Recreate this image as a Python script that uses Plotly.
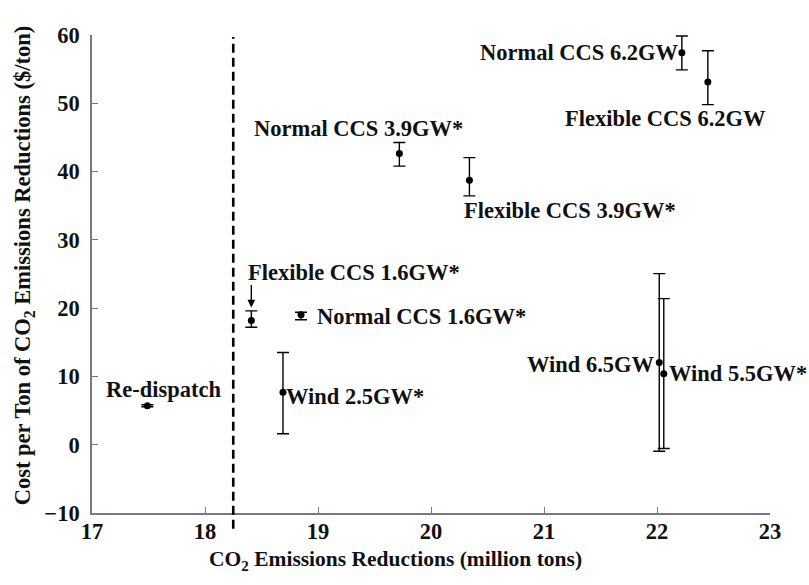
import plotly.graph_objects as go

# Scenario results: CO2 reductions (million tons) vs. cost per ton ($/ton)
scenarios = [
    "Re-dispatch",
    "Flexible CCS 1.6GW*",
    "Normal CCS 1.6GW*",
    "Wind 2.5GW*",
    "Normal CCS 3.9GW*",
    "Flexible CCS 3.9GW*",
    "Normal CCS 6.2GW",
    "Flexible CCS 6.2GW",
    "Wind 6.5GW",
    "Wind 5.5GW*",
]
reductions = [17.49, 18.41, 18.85, 18.69, 19.72, 20.34, 22.22, 22.45, 22.02, 22.06]
cost = [5.7, 18.2, 19.05, 7.7, 42.65, 38.74, 57.4, 53.1, 12.05, 10.4]
cost_err_plus = [0.15, 1.4, 0.35, 5.8, 1.6, 3.3, 2.45, 4.6, 13.0, 11.0]
cost_err_minus = [0.15, 1.0, 0.75, 6.1, 1.85, 2.3, 2.5, 3.3, 13.0, 10.96]

# Reduction threshold marked with a dashed vertical line
threshold = 18.25

x_ticks = [17, 18, 19, 20, 21, 22, 23]
y_ticks = [-10, 0, 10, 20, 30, 40, 50, 60]

x_title = "CO<sub>2</sub> Emissions Reductions (million tons)"
y_title = "Cost per Ton of CO<sub>2</sub> Emissions Reductions ($/ton)"

# Label placement: (xanchor, xshift px, yshift px)
label_place = {
    "Re-dispatch": ("center", 16, 16),
    "Flexible CCS 1.6GW*": ("left", -5, 48),
    "Normal CCS 1.6GW*": ("left", 14, -2),
    "Wind 2.5GW*": ("left", 1, -4),
    "Normal CCS 3.9GW*": ("center", -41, 25),
    "Flexible CCS 3.9GW*": ("left", -7, -30),
    "Normal CCS 6.2GW": ("right", -1, 0),
    "Flexible CCS 6.2GW": ("center", -42, -36),
    "Wind 6.5GW": ("right", -2, -2),
    "Wind 5.5GW*": ("left", 3, 0),
}

serif = "Liberation Serif"
ink = "#111111"
axis_grey = "#7a7a7a"

fig = go.Figure()
fig.add_trace(
    go.Scatter(
        x=reductions,
        y=cost,
        mode="markers",
        marker=dict(color="black", size=7),
        error_y=dict(
            type="data",
            symmetric=False,
            array=cost_err_plus,
            arrayminus=cost_err_minus,
            color="black",
            thickness=1.4,
            width=6,
        ),
        hovertext=scenarios,
        showlegend=False,
    )
)

annotations = []
for name, xv, yv in zip(scenarios, reductions, cost):
    anchor, dx, dy = label_place[name]
    annotations.append(
        dict(
            x=xv, y=yv, xref="x", yref="y",
            text=name, showarrow=False,
            xanchor=anchor, yanchor="middle",
            xshift=dx, yshift=dy,
            font=dict(family=serif, size=22.5, color=ink, weight="bold"),
        )
    )

# Pointer from the Flexible CCS 1.6GW* label down to its marker
fx, fy = reductions[1], cost[1]
annotations.append(
    dict(
        x=fx, y=fy, xref="x", yref="y",
        ax=0, ay=-37, axref="pixel", ayref="pixel",
        text="", showarrow=True,
        arrowhead=2, arrowsize=1.1, arrowwidth=1.4, arrowcolor="black",
        standoff=13,
    )
)

# Axis titles
annotations.append(
    dict(
        x=0.448, y=-0.1, xref="paper", yref="paper",
        text=x_title, showarrow=False,
        xanchor="center", yanchor="middle",
        font=dict(family=serif, size=21.5, color=ink, weight="bold"),
    )
)
annotations.append(
    dict(
        x=-0.099, y=0.518, xref="paper", yref="paper",
        text=y_title, showarrow=False, textangle=-90,
        xanchor="center", yanchor="middle",
        font=dict(family=serif, size=22.5, color=ink, weight="bold"),
    )
)

fig.update_layout(
    width=809,
    height=585,
    margin=dict(l=92, r=39, t=35, b=72),
    paper_bgcolor="white",
    plot_bgcolor="white",
    annotations=annotations,
    shapes=[
        dict(
            type="line", xref="x", yref="paper",
            x0=threshold, x1=threshold, y0=-0.033, y1=0.996,
            line=dict(color="black", width=2.6, dash="9px,5px"),
        )
    ],
)

fig.update_xaxes(
    range=[17, 23],
    tickvals=x_ticks,
    ticks="inside", ticklen=6, tickcolor=axis_grey, tickwidth=1,
    showline=True, linecolor=axis_grey, linewidth=1.6,
    showgrid=False, zeroline=False,
    ticklabelstandoff=-3,
    tickfont=dict(family=serif, size=22.5, color=ink, weight="bold"),
)
fig.update_yaxes(
    range=[-10, 60],
    tickvals=y_ticks,
    ticks="inside", ticklen=6, tickcolor=axis_grey, tickwidth=1,
    showline=True, linecolor=axis_grey, linewidth=1.6,
    showgrid=False, zeroline=False,
    ticklabelstandoff=6,
    tickfont=dict(family=serif, size=22.5, color=ink, weight="bold"),
)

fig.write_html("out.html")
